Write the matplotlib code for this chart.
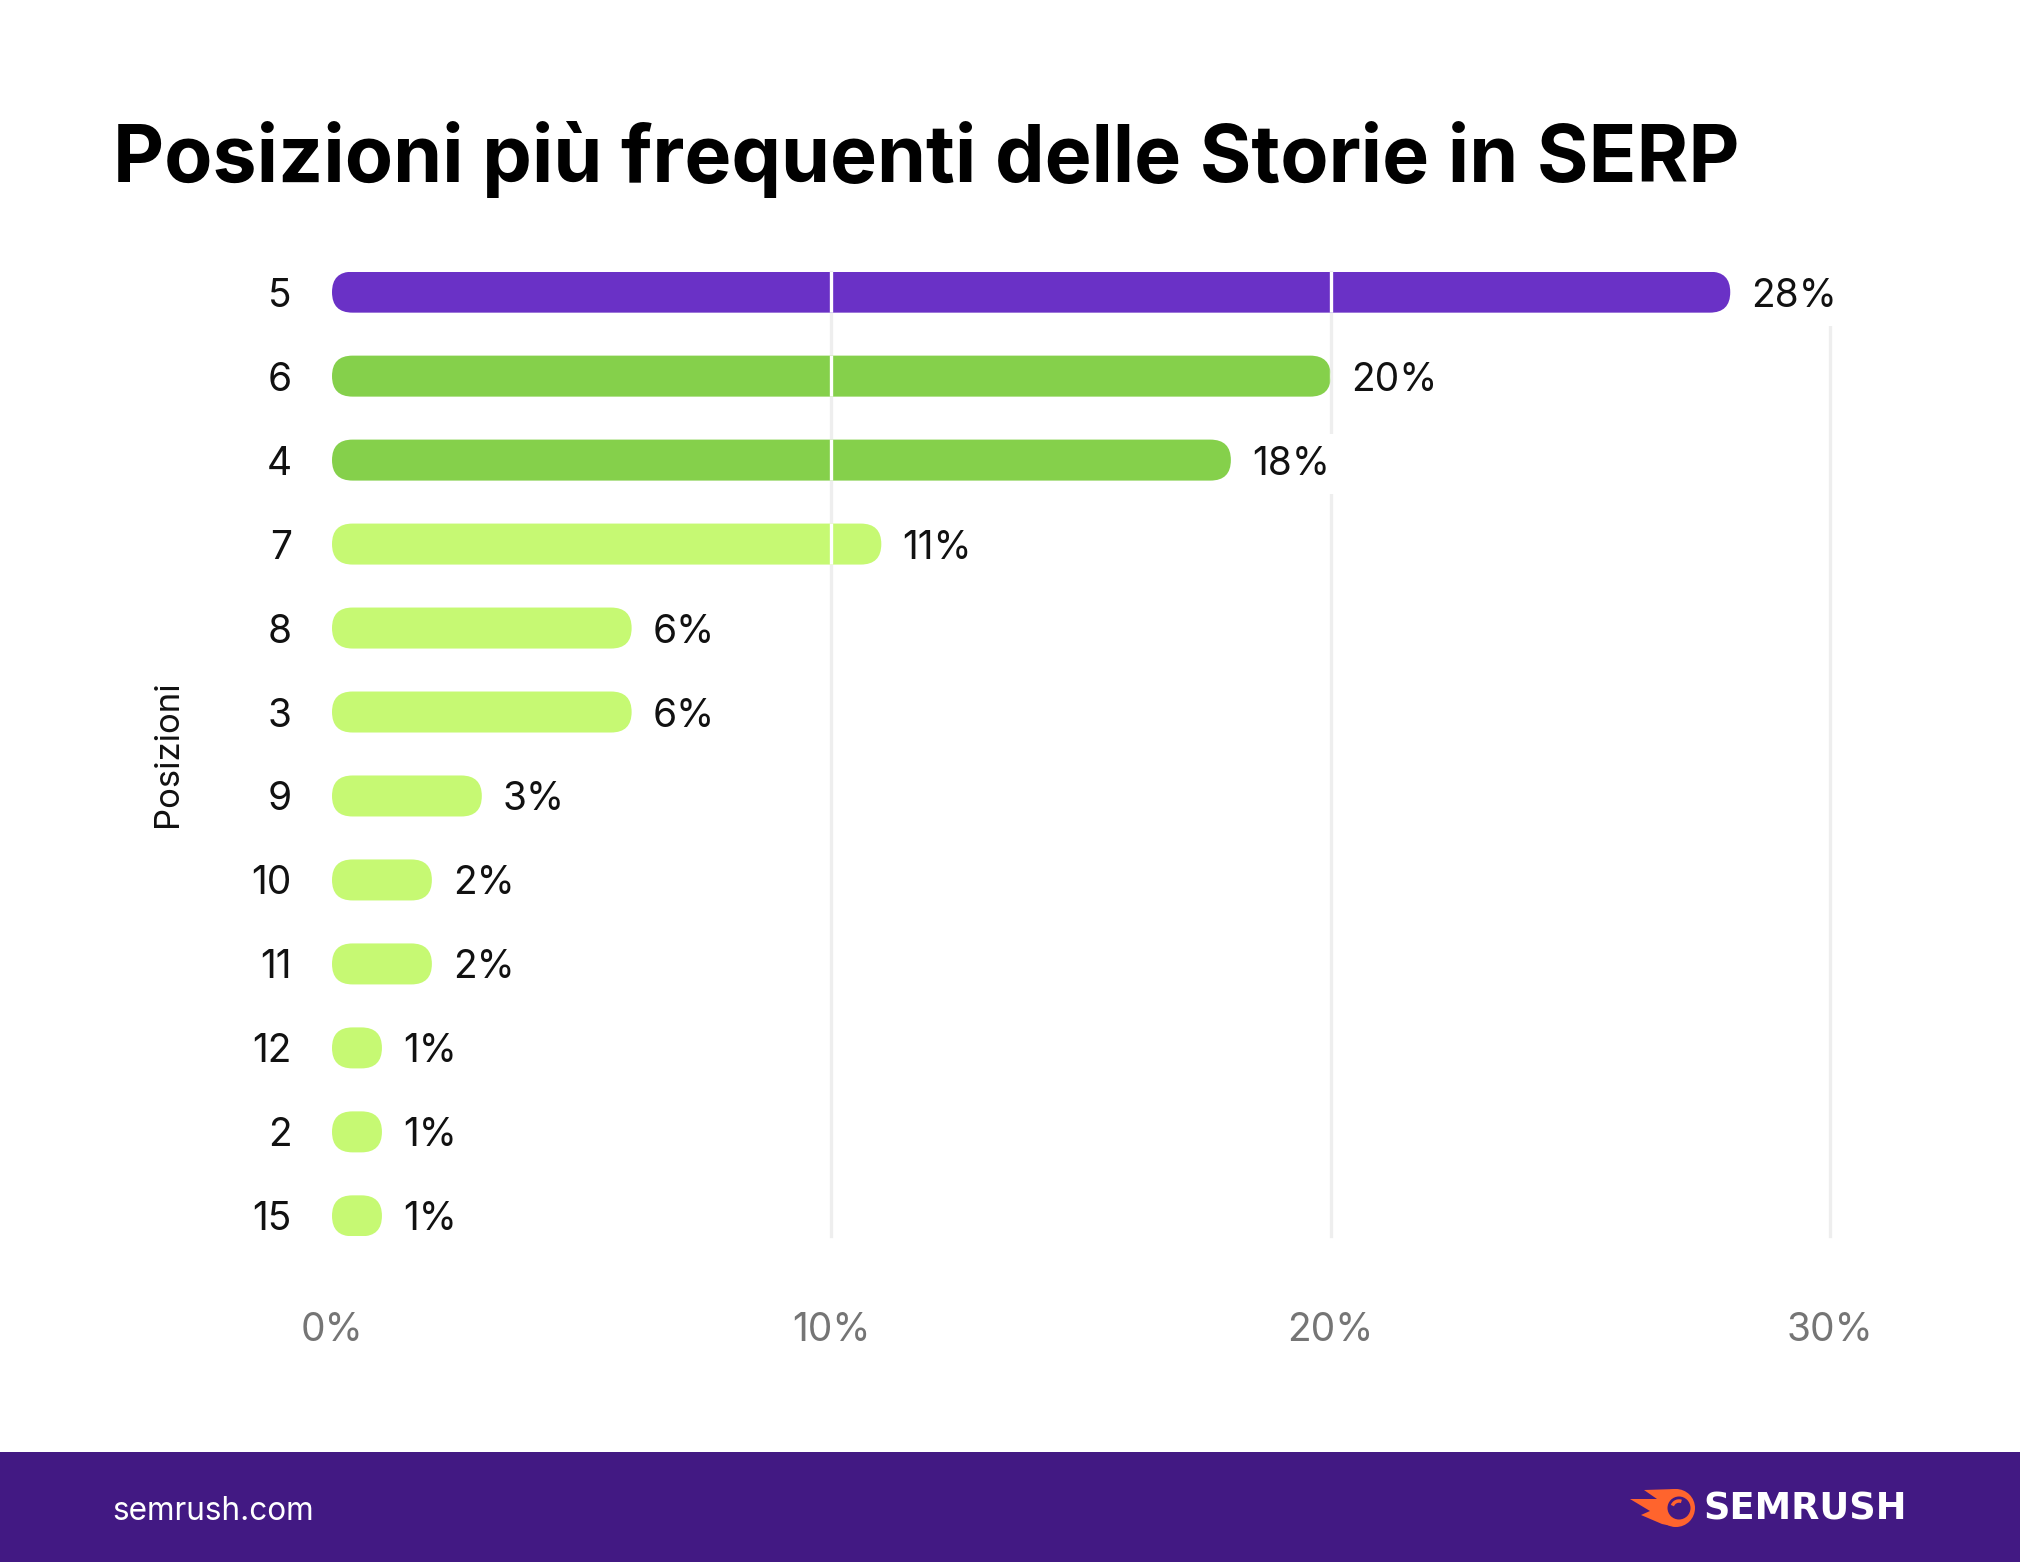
"""Posizioni più frequenti delle Storie in SERP - horizontal bar chart."""

import matplotlib
matplotlib.use('Agg')
import matplotlib.pyplot as plt
from matplotlib.patches import FancyBboxPatch, Rectangle, Circle, Polygon, Arc

# ----------------------------------------------------------------------------
# Dati
# ----------------------------------------------------------------------------
positions = ['5', '6', '4', '7', '8', '3', '9', '10', '11', '12', '2', '15']
shares = [28, 20, 18, 11, 6, 6, 3, 2, 2, 1, 1, 1]
x_ticks = [0, 10, 20, 30]

PURPLE = '#6A31C6'
GREEN = '#85D04B'
LIGHT = '#C6F973'
bar_colors = [PURPLE, GREEN, GREEN] + [LIGHT] * 9
FOOTER = '#421983'

plt.rcParams['font.family'] = ['Inter', 'DejaVu Sans']

W, H = 2020, 1562
fig = plt.figure(figsize=(W / 100, H / 100), dpi=100)
fig.patch.set_facecolor('white')

# area del grafico (in pixel)
left, right, top, bottom = 332, 1930, 272, 1236
ax = fig.add_axes([left / W, 1 - bottom / H, (right - left) / W, (bottom - top) / H])
ax.set_xlim(0, 32)
n = len(positions)
ax.set_ylim(n - 1 + 0.24, -0.24)

px_x = (right - left) / 32
px_y = (bottom - top) / (n - 1 + 0.48)
bar_h = 41 / px_y
r_x = 20.5 / px_x
aspect = px_x / px_y

ax.set_xticks(x_ticks)
ax.set_xticklabels([f'{t}%' for t in x_ticks], fontsize=28, color='#757575')
ax.set_yticks(range(n))
ax.set_yticklabels(positions, fontsize=28, color='#111111', ha='right')
ax.tick_params(axis='both', length=0)
ax.tick_params(axis='y', pad=29)
ax.tick_params(axis='x', pad=55)
for s in ax.spines.values():
    s.set_visible(False)

# griglia grigia dietro le barre
for t in x_ticks[1:]:
    ax.axvline(t, color='#EEEEEE', lw=2.4, zorder=0, clip_on=False)

for i, (v, c) in enumerate(zip(shares, bar_colors)):
    patch = FancyBboxPatch((0, i - bar_h / 2), v, bar_h,
                           boxstyle=f'round,pad=0,rounding_size={r_x}',
                           mutation_aspect=aspect, fc=c, ec='none', zorder=2)
    ax.add_patch(patch)
    # linee della griglia bianche sopra le barre
    for t in x_ticks[1:]:
        ln = ax.axvline(t, color='white', lw=2.4, zorder=3)
        ln.set_clip_path(patch)
    ax.annotate(f'{v}%', xy=(v, i), xytext=(15, 0), textcoords='offset points',
                ha='left', va='center_baseline', fontsize=28, color='#111111',
                bbox=dict(boxstyle='square,pad=0.3', fc='white', ec='none'),
                zorder=4, annotation_clip=False)

# etichetta asse y
fig.text(168 / W, 1 - 754 / H, 'Posizioni', rotation=90, fontsize=25,
         ha='center', va='center', color='#111111')

# titolo
fig.text(113 / W, 1 - 182 / H, 'Posizioni più frequenti delle Storie in SERP',
         fontsize=56.8, fontweight='bold', ha='left', va='baseline', color='black')

# ----------------------------------------------------------------------------
# Footer
# ----------------------------------------------------------------------------
fax = fig.add_axes([0, 0, 1, 1], zorder=-1)
fax.set_xlim(0, W)
fax.set_ylim(H, 0)
fax.axis('off')
fax.add_patch(Rectangle((0, 1452), W, H - 1452, fc=FOOTER, ec='none'))
fax.text(112, 1511, 'semrush.com', fontsize=22.7, color='white',
         ha='left', va='center')
fax.text(1703, 1509, 'SEMRUSH', fontsize=26.5, fontweight='bold', color='white',
         ha='left', va='center', family='DejaVu Sans')

# logo
ORANGE = '#FF642D'
fax.add_patch(Polygon([(1676, 1489), (1644, 1490), (1657, 1499), (1630, 1499),
                       (1650, 1511), (1641, 1515), (1662, 1524), (1676, 1527)],
                      closed=True, fc=ORANGE, ec='none'))
fax.add_patch(Circle((1676, 1508), 19, fc=ORANGE, ec='none'))
fax.add_patch(Circle((1679, 1508), 11.5, fc=FOOTER, ec='none'))
fax.add_patch(Arc((1679, 1508), 14, 14, theta1=200, theta2=290,
                  color=ORANGE, lw=2.5))

fig.savefig('out.png', dpi=100, facecolor='white')
